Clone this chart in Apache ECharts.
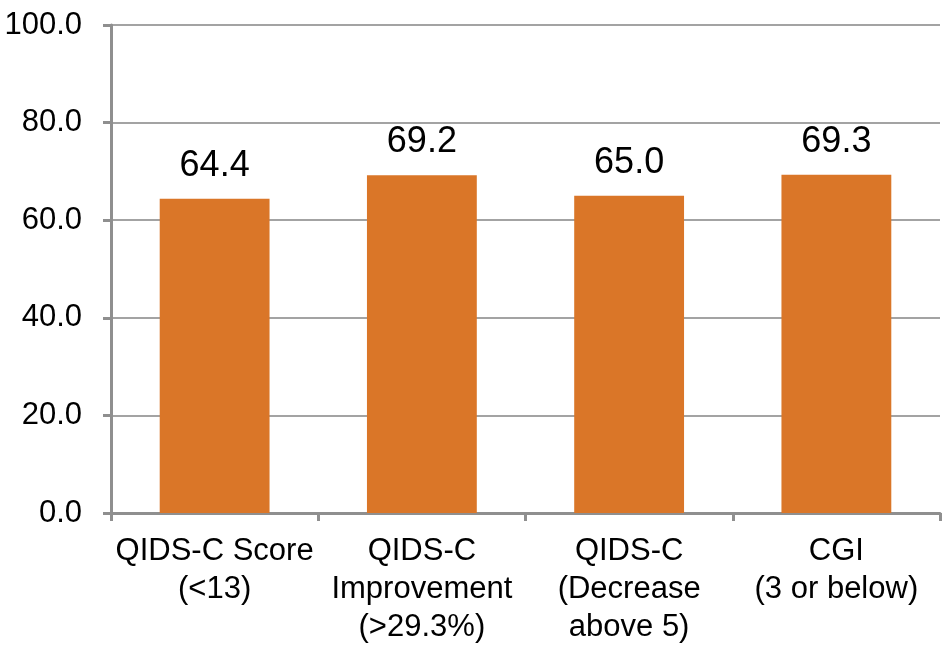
<!DOCTYPE html>
<html>
<head>
<meta charset="utf-8">
<style>
  html, body { margin: 0; padding: 0; background: #ffffff; }
  #chart { width: 943px; height: 648px; }
</style>
<script src="https://cdn.jsdelivr.net/npm/echarts@6/dist/echarts.min.js"></script>
</head>
<body>
<div id="chart"></div>
<script>
// Response rates by outcome measure (%)
const categories = [
  'QIDS-C Score\n(<13)',
  'QIDS-C\nImprovement\n(>29.3%)',
  'QIDS-C\n(Decrease\nabove 5)',
  'CGI\n(3 or below)'
];
const values = [64.4, 69.2, 65.0, 69.3];
const yTicks = { min: 0, max: 100, interval: 20 };

const font = '"Liberation Sans", Arial, sans-serif';
const axisGray = '#8f8f8f';

const chart = echarts.init(document.getElementById('chart'), null, { renderer: 'canvas' });
chart.setOption({
  animation: false,
  backgroundColor: '#ffffff',
  grid: { left: 111, right: 3, top: 25, bottom: 135, containLabel: false },
  xAxis: {
    type: 'category',
    data: categories,
    axisLine: { lineStyle: { color: axisGray, width: 3 } },
    axisTick: { show: true, length: 8, alignWithLabel: false, lineStyle: { color: axisGray, width: 3 } },
    axisLabel: {
      color: '#000000',
      fontFamily: font,
      fontSize: 31,
      lineHeight: 38,
      margin: 19,
      interval: 0,
      align: 'center'
    },
    splitLine: { show: false }
  },
  yAxis: {
    type: 'value',
    min: yTicks.min,
    max: yTicks.max,
    interval: yTicks.interval,
    axisLine: { show: true, lineStyle: { color: axisGray, width: 3 } },
    axisTick: { show: true, length: 8, lineStyle: { color: axisGray, width: 3 } },
    axisLabel: {
      color: '#000000',
      fontFamily: font,
      fontSize: 31,
      margin: 29,
      formatter: v => v.toFixed(1)
    },
    splitLine: { show: true, lineStyle: { color: '#a3a3a3', width: 2 } }
  },
  series: [{
    type: 'bar',
    data: values,
    barWidth: '53%',
    itemStyle: { color: '#DA7628' },
    label: {
      show: true,
      position: 'top',
      distance: 15,
      color: '#000000',
      fontFamily: font,
      fontSize: 36,
      formatter: p => p.value.toFixed(1)
    }
  }]
});
</script>
</body>
</html>
